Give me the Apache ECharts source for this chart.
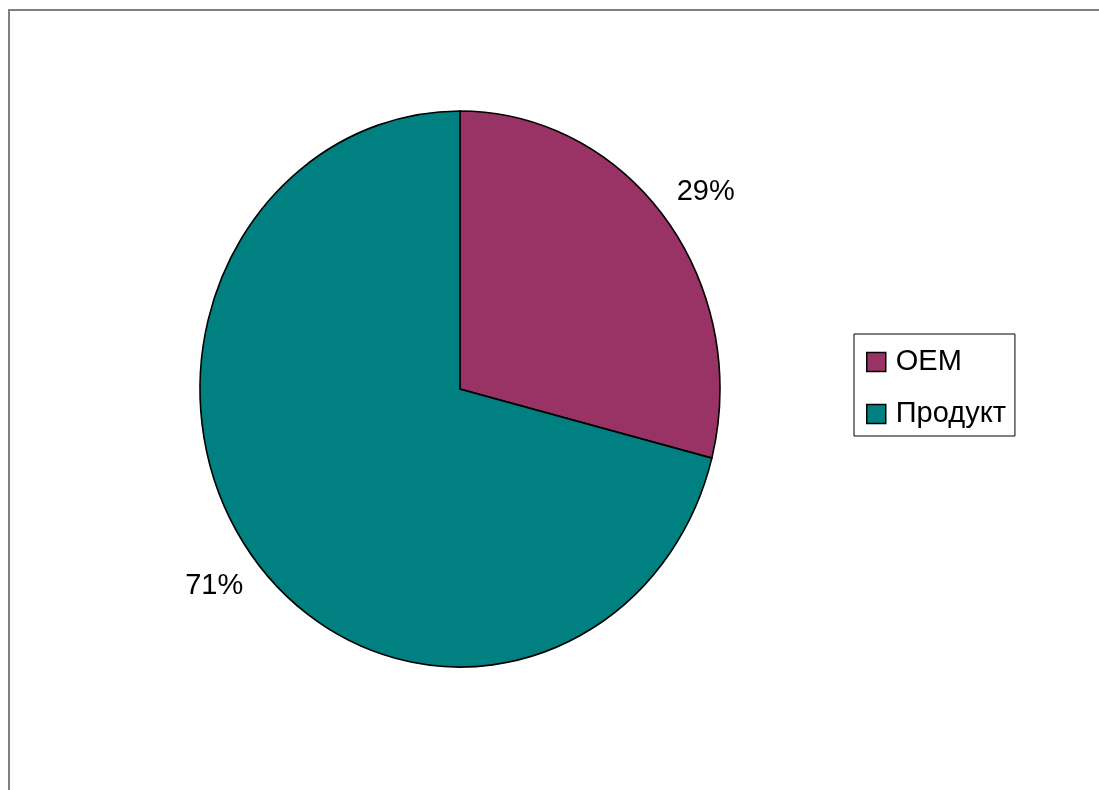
<!DOCTYPE html>
<html>
<head>
<meta charset="utf-8">
<script src="https://cdn.jsdelivr.net/npm/echarts@6/dist/echarts.min.js"></script>
<style>
html,body{margin:0;padding:0;background:#fff;}
#c{width:1099px;height:790px;}
</style>
</head>
<body>
<div id="c"></div>
<script>
const categories = ['OEM', 'Продукт'];
const values = [29, 71];
const labels = ['29%', '71%'];
const colors = ['#993366', '#008080'];

const CX = 460, CY = 389, RX = 260, RY = 278, LABEL_RX = 311, LABEL_RY = 321;
const total = values.reduce((a, b) => a + b, 0);

function makeRender(idx) {
  return function (params, api) {
    const before = values.slice(0, idx).reduce((a, b) => a + b, 0);
    const v = api.value(0);
    const start = -Math.PI / 2 + before / total * Math.PI * 2;
    const end = start + v / total * Math.PI * 2;
    const mid = (start + end) / 2;
    const k = RY / RX;
    return {
      type: 'group',
      children: [
        {
          type: 'sector',
          x: CX, y: CY, scaleY: k,
          shape: { cx: 0, cy: 0, r0: 0, r: RX, startAngle: start, endAngle: end, clockwise: true },
          style: { fill: api.visual('color'), stroke: '#000', lineWidth: 1.6, strokeNoScale: true }
        },
        {
          type: 'text',
          x: CX + LABEL_RX * Math.cos(mid),
          y: CY + LABEL_RY * Math.sin(mid),
          style: {
            text: labels[idx], fill: '#000', font: '29px "Liberation Sans", Arial, sans-serif',
            align: 'center', verticalAlign: 'middle'
          }
        }
      ]
    };
  };
}

const series = categories.map((name, i) => ({
  type: 'custom',
  name: name,
  coordinateSystem: 'none',
  itemStyle: { color: colors[i] },
  data: [[values[i]]],
  renderItem: makeRender(i),
  animation: false
}));

const chart = echarts.init(document.getElementById('c'), null, { renderer: 'canvas' });
chart.setOption({
  backgroundColor: '#fff',
  animation: false,
  graphic: [{
    type: 'rect', z: -10,
    shape: { x: 9, y: 10, width: 1300, height: 1000 },
    style: { fill: null, stroke: '#808080', lineWidth: 2 }
  }],
  legend: {
    data: categories,
    orient: 'vertical',
    left: 854, top: 334,
    padding: [13, 9, 7, 12],
    itemWidth: 19, itemHeight: 19,
    itemGap: 22,
    icon: 'rect',
    borderColor: '#000', borderWidth: 1,
    itemStyle: { borderColor: '#000', borderWidth: 1.5 },
    textStyle: { fontSize: 29, lineHeight: 30, color: '#000', fontFamily: '"Liberation Sans", Arial, sans-serif', padding: [0, 0, 0, 5] }
  },
  series: series
});
</script>
</body>
</html>
